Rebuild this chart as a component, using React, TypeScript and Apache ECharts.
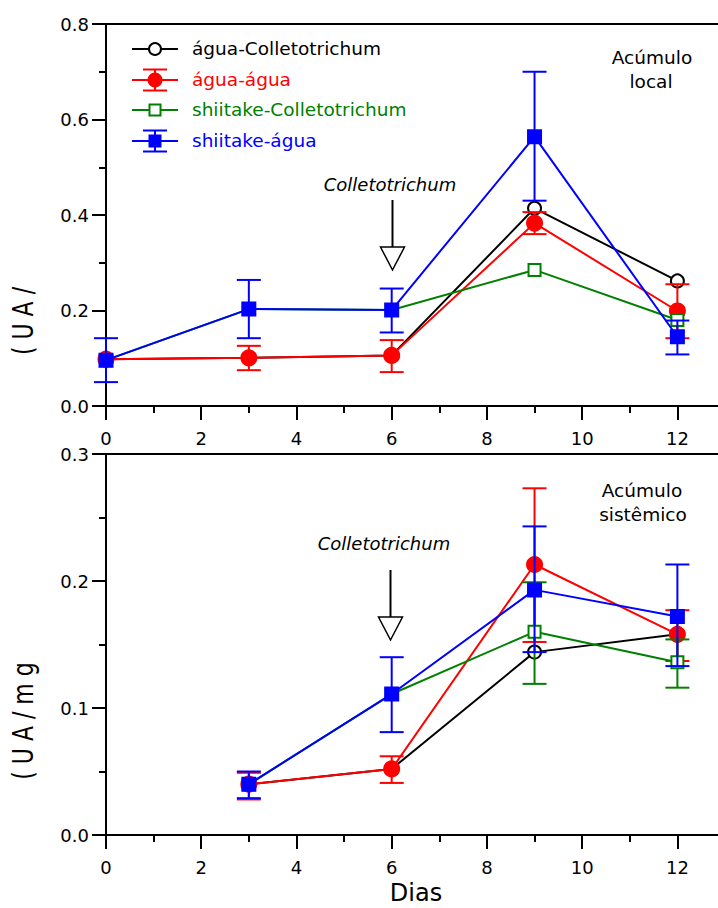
import React, { useEffect, useRef } from "react";
import * as echarts from "echarts";

const daysTop = [0, 3, 6, 9, 12];
const daysBottom = [3, 6, 9, 12];

const seriesNames = ["água-Colletotrichum", "água-água", "shiitake-Colletotrichum", "shiitake-água"];
const seriesColors = ["#000000", "#ff0000", "#008000", "#0000ff"];

// Top panel (Acúmulo local)
const topBlack = [0.098, 0.101, 0.106, 0.414, 0.262];
const topRed = [0.098, 0.101, 0.106, 0.383, 0.199];
const topGreen = [0.096, 0.203, 0.201, 0.285, 0.18];
const topBlue = [0.096, 0.203, 0.201, 0.564, 0.145];

// error bars [day, low, high]
const topRedErr = [
  [3, 0.075, 0.126],
  [6, 0.071, 0.138],
  [9, 0.36, 0.406],
  [12, 0.142, 0.255],
];
const topBlueErr = [
  [0, 0.05, 0.142],
  [3, 0.142, 0.264],
  [6, 0.154, 0.246],
  [9, 0.43, 0.7],
  [12, 0.108, 0.179],
];

// Bottom panel (Acúmulo sistêmico)
const botBlack = [0.04, 0.052, 0.144, 0.158];
const botRed = [0.04, 0.052, 0.213, 0.158];
const botGreen = [0.04, 0.111, 0.16, 0.136];
const botBlue = [0.04, 0.111, 0.193, 0.172];

const botRedErr = [
  [3, 0.028, 0.049],
  [6, 0.041, 0.062],
  [9, 0.152, 0.273],
  [12, 0.137, 0.177],
];
const botGreenErr = [
  [9, 0.119, 0.199],
  [12, 0.116, 0.154],
];
const botBlueErr = [
  [3, 0.029, 0.05],
  [6, 0.081, 0.14],
  [9, 0.144, 0.243],
  [12, 0.133, 0.213],
];

const yTicksTop = { min: 0, max: 0.8, interval: 0.2 };
const yTicksBottom = { min: 0, max: 0.3, interval: 0.1 };

const FONT = "DejaVu Sans";

function pairs(xs: number[], ys: number[]) {
  return xs.map((x, i) => [x, ys[i]]);
}

function errSeries(data: number[][], color: string, idx: number, z: number) {
  return {
    type: "custom",
    xAxisIndex: idx,
    yAxisIndex: idx,
    z,
    silent: true,
    data,
    encode: { x: 0, y: [1, 2] },
    renderItem: (params: any, api: any) => {
      const x = api.value(0);
      const lo = api.coord([x, api.value(1)]);
      const hi = api.coord([x, api.value(2)]);
      const hw = 12;
      const st = { stroke: color, lineWidth: 2 };
      return {
        type: "group",
        children: [
          { type: "line", shape: { x1: lo[0], y1: lo[1], x2: hi[0], y2: hi[1] }, style: st },
          { type: "line", shape: { x1: lo[0] - hw, y1: lo[1], x2: lo[0] + hw, y2: lo[1] }, style: st },
          { type: "line", shape: { x1: hi[0] - hw, y1: hi[1], x2: hi[0] + hw, y2: hi[1] }, style: st },
        ],
      };
    },
  };
}

function lineSeries(name: string, data: number[][], color: string, idx: number, symbol: string, size: number, z: number) {
  return {
    type: "line",
    name,
    xAxisIndex: idx,
    yAxisIndex: idx,
    z,
    data,
    symbol,
    symbolSize: size,
    showAllSymbol: true,
    lineStyle: { color, width: 2 },
    itemStyle: { color, borderColor: color, borderWidth: 2 },
  };
}

function xAxisCfg(gridIndex: number) {
  return {
    type: "value",
    gridIndex,
    min: 0,
    max: 13,
    interval: 2,
    axisLine: { show: true, lineStyle: { color: "#000", width: 2 } },
    axisTick: { show: true, inside: false, length: 14, lineStyle: { color: "#000", width: 2 } },
    minorTick: { show: true, splitNumber: 2, length: 7, lineStyle: { color: "#000", width: 2 } },
    splitLine: { show: false },
    minorSplitLine: { show: false },
    axisLabel: {
      margin: 23,
      color: "#000",
      fontSize: 18,
      fontFamily: FONT,
      formatter: (v: number) => (v > 12 ? "" : String(v)),
    },
  };
}

function yAxisCfg(gridIndex: number, t: { min: number; max: number; interval: number }) {
  return {
    type: "value",
    gridIndex,
    min: t.min,
    max: t.max,
    interval: t.interval,
    axisLine: { show: true, lineStyle: { color: "#000", width: 2 } },
    axisTick: { show: true, inside: false, length: 14, lineStyle: { color: "#000", width: 2 } },
    minorTick: { show: true, splitNumber: 2, length: 7, lineStyle: { color: "#000", width: 2 } },
    splitLine: { show: false },
    minorSplitLine: { show: false },
    axisLabel: {
      margin: 17,
      color: "#000",
      fontSize: 18,
      fontFamily: FONT,
      formatter: (v: number) => v.toFixed(1),
    },
  };
}

function legendGraphics() {
  const rows = [49, 80, 110, 141];
  const items: any[] = [];
  rows.forEach((y, i) => {
    const c = seriesColors[i];
    items.push({ type: "line", shape: { x1: 132, y1: y, x2: 178, y2: y }, style: { stroke: c, lineWidth: 2 } });
    if (i === 1 || i === 3) {
      items.push({ type: "line", shape: { x1: 155, y1: y - 10.5, x2: 155, y2: y + 10.5 }, style: { stroke: c, lineWidth: 2 } });
      items.push({ type: "line", shape: { x1: 143, y1: y - 10.5, x2: 167, y2: y - 10.5 }, style: { stroke: c, lineWidth: 2 } });
      items.push({ type: "line", shape: { x1: 143, y1: y + 10.5, x2: 167, y2: y + 10.5 }, style: { stroke: c, lineWidth: 2 } });
    }
    if (i === 0) items.push({ type: "circle", shape: { cx: 155, cy: y, r: 6 }, style: { fill: "#fff", stroke: c, lineWidth: 2 } });
    if (i === 1) items.push({ type: "circle", shape: { cx: 155, cy: y, r: 7.5 }, style: { fill: c } });
    if (i === 2) items.push({ type: "rect", shape: { x: 149.5, y: y - 5.5, width: 11, height: 11 }, style: { fill: "#fff", stroke: c, lineWidth: 2 } });
    if (i === 3) items.push({ type: "rect", shape: { x: 148.5, y: y - 6.5, width: 13, height: 13 }, style: { fill: c } });
    items.push({
      type: "text",
      x: 192,
      y: y - 1,
      style: { text: seriesNames[i], fill: c, fontSize: 18.5, fontFamily: FONT, textAlign: "left", textVerticalAlign: "middle" },
    });
  });
  return items;
}

function txt(text: string, x: number, y: number, size: number, extra: any = {}) {
  return {
    type: "text",
    x,
    y,
    style: { text, fill: "#000", fontSize: size, fontFamily: FONT, textAlign: "center", textVerticalAlign: "middle", ...extra },
  };
}

function arrow(x: number, y0: number, y1: number, y2: number) {
  return [
    { type: "line", shape: { x1: x, y1: y0, x2: x, y2: y1 }, style: { stroke: "#000", lineWidth: 2 } },
    {
      type: "polygon",
      shape: { points: [[x - 12, y1], [x + 12, y1], [x, y2]] },
      style: { fill: "#fff", stroke: "#000", lineWidth: 1.5 },
    },
  ];
}

function yTitle(text: string, y: number) {
  return {
    type: "text",
    x: 24,
    y,
    rotation: Math.PI / 2,
    scaleY: 1.25,
    style: { text, fill: "#000", fontSize: 22, fontFamily: FONT, textAlign: "center", textVerticalAlign: "middle" },
  };
}

export default function App() {
  const ref = useRef<HTMLDivElement>(null);
  useEffect(() => {
    if (!ref.current) return;
    const chart = echarts.init(ref.current, undefined, { renderer: "svg" });
    const option: any = {
      animation: false,
      backgroundColor: "#fff",
      grid: [
        { left: 106, top: 24, width: 619, height: 382, outerBoundsMode: "none", containLabel: false, show: true, borderColor: "#000", borderWidth: 2, backgroundColor: "transparent" },
        { left: 106, top: 454, width: 619, height: 381, outerBoundsMode: "none", containLabel: false, show: true, borderColor: "#000", borderWidth: 2, backgroundColor: "transparent" },
      ],
      xAxis: [xAxisCfg(0), xAxisCfg(1)],
      yAxis: [yAxisCfg(0, yTicksTop), yAxisCfg(1, yTicksBottom)],
      series: [
        lineSeries(seriesNames[0], pairs(daysTop, topBlack), seriesColors[0], 0, "emptyCircle", 13, 2),
        lineSeries(seriesNames[1], pairs(daysTop, topRed), seriesColors[1], 0, "circle", 15, 3),
        errSeries(topRedErr, seriesColors[1], 0, 3),
        lineSeries(seriesNames[2], pairs(daysTop, topGreen), seriesColors[2], 0, "emptyRect", 12, 4),
        lineSeries(seriesNames[3], pairs(daysTop, topBlue), seriesColors[3], 0, "rect", 13, 5),
        errSeries(topBlueErr, seriesColors[3], 0, 5),

        lineSeries(seriesNames[0], pairs(daysBottom, botBlack), seriesColors[0], 1, "emptyCircle", 13, 2),
        lineSeries(seriesNames[1], pairs(daysBottom, botRed), seriesColors[1], 1, "circle", 15, 3),
        errSeries(botRedErr, seriesColors[1], 1, 3),
        lineSeries(seriesNames[2], pairs(daysBottom, botGreen), seriesColors[2], 1, "emptyRect", 12, 4),
        errSeries(botGreenErr, seriesColors[2], 1, 4),
        lineSeries(seriesNames[3], pairs(daysBottom, botBlue), seriesColors[3], 1, "rect", 13, 5),
        errSeries(botBlueErr, seriesColors[3], 1, 5),
      ],
      graphic: [
        ...legendGraphics(),
        txt("Colletotrichum", 390, 184, 18, { fontStyle: "italic" }),
        ...arrow(392.5, 200, 247, 270),
        txt("Acúmulo", 652, 57, 18.5),
        txt("local", 651, 81, 18.5),
        txt("Colletotrichum", 384, 543, 18, { fontStyle: "italic" }),
        ...arrow(390.5, 570, 617, 640),
        txt("Acúmulo", 642, 490, 18.5),
        txt("sistêmico", 643, 514, 18.5),
        txt("Dias", 416, 893, 24),
        yTitle("( U A /", 321),
        yTitle("( U A / m g", 721),
      ],
    };
    chart.setOption(option);
    return () => chart.dispose();
  }, []);
  return <div ref={ref} style={{ position: "absolute", left: 0, top: 0, width: 718, height: 908 }} />;
}
